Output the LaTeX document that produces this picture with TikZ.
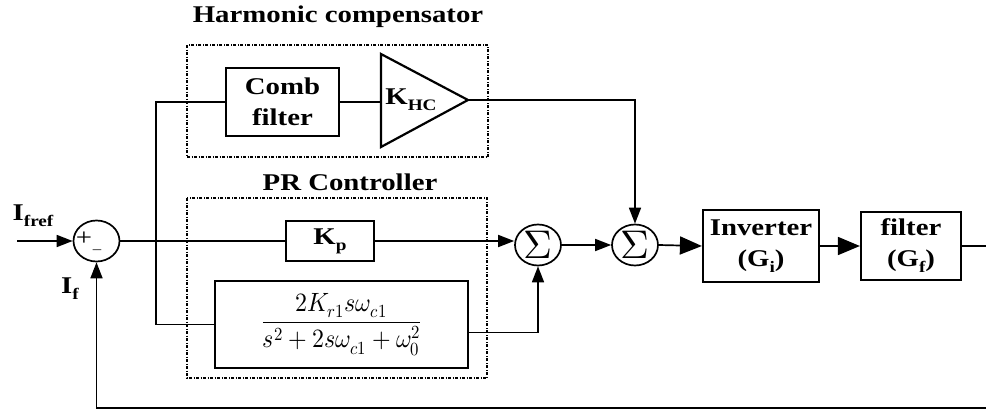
\documentclass[tikz,border=0pt]{standalone}
\usepackage{fontspec}
\usepackage{unicode-math}
\usepackage{graphicx}
\setmainfont{Liberation Serif}[FakeStretch=1.2]
\setmathfont{Latin Modern Math}
\usetikzlibrary{arrows.meta,shapes.geometric}
\newcommand\mysub[1]{\raisebox{-0.25em}{\fontsize{16}{16}\selectfont #1}}
\begin{document}
\begin{tikzpicture}[x=1pt,y=-1pt,
  font=\fontsize{24}{31}\selectfont\bfseries,
  ln/.style={line width=1.7pt},
  blk/.style={draw,line width=2.2pt,inner sep=0pt,align=center},
  sumn/.style={draw,ellipse,line width=1.7pt,minimum width=46pt,minimum height=41pt,inner sep=0pt},
  grp/.style={draw,line width=1.3pt,dash pattern=on 3pt off 1.5pt on 1pt off 1.5pt},
  arr/.style={ln,-{Triangle[length=16pt,width=12pt]}},
  barr/.style={ln,-{Triangle[length=22pt,width=18pt]}},
  sig/.style={font=\fontsize{40}{40}\selectfont},
  sgn/.style={inner sep=0pt}
]
\useasboundingbox (0,0) rectangle (986,410);
% group boxes
\draw[grp] (187,45) rectangle (488,157);
\draw[grp] (187,198) rectangle (487,378);
\node (hctitle) at (338,17) {Harmonic compensator};
\node (prtitle) at (350,182) {PR Controller};
% blocks
\node[blk,minimum width=113pt,minimum height=68pt] (comb) at (282.5,102) {Comb\\filter};
\draw[line width=2.2pt,line join=miter] (381,54) -- (468,100) -- (381,147) -- cycle;
\coordinate (triL) at (381,102);
\coordinate (tip) at (468,100);
\node (khc) at (411,100) {K\mysub{HC}};
\node[blk,minimum width=88pt,minimum height=40pt] (kp) at (330,241) {K\mysub{p}};
\node[blk,minimum width=253pt,minimum height=87pt] (res) at (341.5,324.5)
  {\scalebox{1.04}[1.15]{\fontsize{23}{27}\selectfont$\displaystyle\frac{2K_{r1}s\omega_{c1}}{s^2+2s\omega_{c1}+\omega_0^2}$}};
\node[sumn] (s1) at (96.5,241) {};
\node[sgn] (plus) at (84,239) {\fontsize{24}{24}\selectfont\mdseries +};
\node[sgn] (minus) at (97,252) {\fontsize{14}{14}\selectfont\mdseries --};
\node[sumn,sig] (s3) at (538,245) {$\Sigma$};
\node[sumn,sig] (s4) at (635,245) {$\Sigma$};
\node[blk,minimum width=116pt,minimum height=72pt] (inv) at (761,246) {Inverter\\(G\mysub{i})};
\node[blk,minimum width=100pt,minimum height=68pt] (filt) at (911,246) {filter\\(G\mysub{f})};
\node (iref) at (33,216) {I\mysub{fref}};
\node (ifb) at (70,289) {I\mysub{f}};
% coordinates
\coordinate (in) at (17,241);
\coordinate (jx) at (156,241);
\coordinate (out) at (986,246);
\coordinate (fb) at (986,408);
% connectors
\draw[arr] (in) -- (s1.west);
\draw[ln] (s1.east) -- (kp.west);
\draw[arr] (kp.east) -- (kp.east -| s3.west);
\draw[arr] (s3.east) -- (s4.west);
\draw[arr] (tip) -| (s4.north);
\draw[barr] (s4.east) -- (inv.west);
\draw[barr] (inv.east) -- (filt.west);
\draw[ln] (filt.east) -- (out);
\draw[arr] (fb) -| (s1.south);
\draw[ln] (comb.east) -- (comb.east -| triL);
\draw[ln] (comb.west) -- (comb.west -| jx) -- (jx |- res.west) -- (res.west);
\draw[arr] ([yshift=-8pt]res.east) -| (s3.south);
\end{tikzpicture}
\end{document}
